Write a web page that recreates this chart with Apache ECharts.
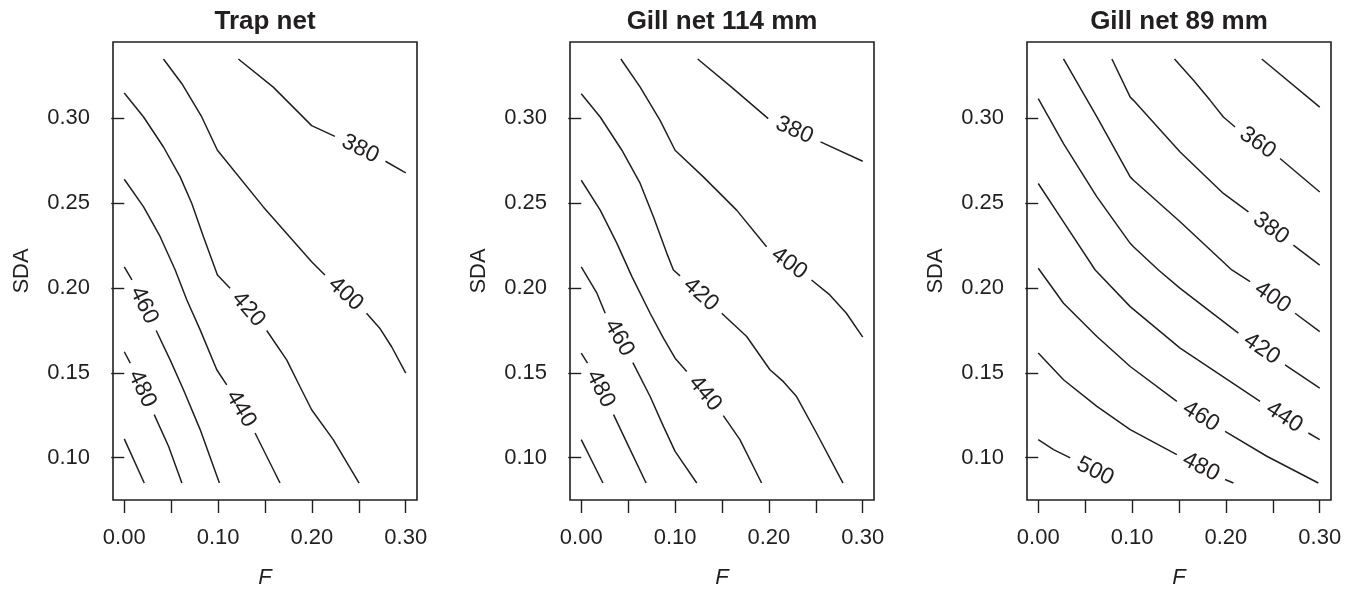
<!DOCTYPE html>
<html>
<head>
<meta charset="utf-8">
<script src="https://cdn.jsdelivr.net/npm/echarts@6/dist/echarts.min.js"></script>
<style>
  html, body { margin: 0; padding: 0; background: #fff; }
  #chart { width: 1354px; height: 589px; }
</style>
</head>
<body>
<div id="chart"></div>
<script>
// axis ticks and labels
const F_TICKS = [0, 0.05, 0.1, 0.15, 0.2, 0.25, 0.3];
const F_LABELS = [0, 0.1, 0.2, 0.3];
const SDA_TICKS = [0.1, 0.15, 0.2, 0.25, 0.3];
const panelTitles = ['Trap net', 'Gill net 114 mm', 'Gill net 89 mm'];

// contour lines, [F, SDA] points; each line is split where its label sits
const trapLines = [
  { level: 380, parts: [[[0.1216, 0.335], [0.1588, 0.3184], [0.1997, 0.2957], [0.2245, 0.2894]], [[0.2784, 0.2747], [0.3, 0.2678]]] },
  { level: 400, parts: [[[0.0418, 0.335], [0.0614, 0.3204], [0.0826, 0.3008], [0.0993, 0.2812], [0.1482, 0.2478], [0.1997, 0.2155], [0.2138, 0.2076]], [[0.2582, 0.1851], [0.2723, 0.1763], [0.2848, 0.1655], [0.3, 0.1498]]] },
  { level: 420, parts: [[[0, 0.3149], [0.0206, 0.3008], [0.0418, 0.2831], [0.0596, 0.2655], [0.072, 0.2498], [0.0844, 0.2302], [0.0993, 0.2076], [0.1128, 0.1998]], [[0.1518, 0.1749], [0.1731, 0.1576], [0.1872, 0.1419], [0.1997, 0.1282], [0.2227, 0.1106], [0.2503, 0.085]]] },
  { level: 440, parts: [[[0, 0.2641], [0.0206, 0.2478], [0.0383, 0.2302], [0.0543, 0.2106], [0.0667, 0.1929], [0.0809, 0.1753], [0.0986, 0.1518], [0.1092, 0.1429]], [[0.1394, 0.1145], [0.166, 0.085]]] },
  { level: 460, parts: [[[0, 0.2125], [0.0082, 0.2047]], [[0.034, 0.1749], [0.0489, 0.1576], [0.0631, 0.14], [0.0809, 0.1165], [0.1014, 0.085]]] },
  { level: 480, parts: [[[0, 0.1624], [0.0064, 0.1557]], [[0.0319, 0.1253], [0.0472, 0.1067], [0.0614, 0.085]]] },
  { level: 500, parts: [[[0, 0.111], [0.0213, 0.085]]] }
];
const trapLabels = [[0.2515, 0.282, 380], [0.236, 0.1964, 400], [0.1323, 0.1874, 420], [0.1243, 0.1287, 440], [0.0211, 0.1898, 460], [0.0191, 0.1405, 480]];

const gill114Lines = [
  { level: 380, parts: [[[0.1241, 0.335], [0.162, 0.3175], [0.1993, 0.2998]], [[0.255, 0.2861], [0.3, 0.2747]]] },
  { level: 400, parts: [[[0.0422, 0.335], [0.0628, 0.3184], [0.084, 0.2988], [0.1, 0.2812], [0.1301, 0.2655], [0.1656, 0.2459], [0.1975, 0.2243]], [[0.2454, 0.2047], [0.2649, 0.1959], [0.2826, 0.1851], [0.3, 0.171]]] },
  { level: 420, parts: [[[0, 0.3145], [0.0202, 0.3008], [0.0433, 0.2812], [0.0628, 0.2616], [0.0769, 0.242], [0.0912, 0.2204], [0.0982, 0.2106], [0.1053, 0.2071]], [[0.1497, 0.1851], [0.1763, 0.1714], [0.2011, 0.1518], [0.2152, 0.1449], [0.2295, 0.136], [0.2507, 0.1145], [0.279, 0.085]]] },
  { level: 440, parts: [[[0, 0.2635], [0.0202, 0.2459], [0.038, 0.2263], [0.054, 0.2067], [0.0734, 0.1851], [0.0876, 0.1704], [0.1, 0.1586], [0.1124, 0.1508]], [[0.1514, 0.1247], [0.1691, 0.1106], [0.1922, 0.085]]] },
  { level: 460, parts: [[[0, 0.2125], [0.0167, 0.1969], [0.0255, 0.1851]], [[0.055, 0.156], [0.0734, 0.136], [0.0876, 0.1184], [0.1, 0.1037], [0.1231, 0.085]]] },
  { level: 480, parts: [[[0, 0.1616], [0.0067, 0.1557]], [[0.0344, 0.1253], [0.0521, 0.1047], [0.0691, 0.085]]] },
  { level: 500, parts: [[[0, 0.1106], [0.0231, 0.085]]] }
];
const gill114Labels = [[0.2272, 0.293, 380], [0.2215, 0.2145, 400], [0.1275, 0.1961, 420], [0.1319, 0.1378, 440], [0.0403, 0.1706, 460], [0.0206, 0.1405, 480]];

const gill89Lines = [
  { level: 340, parts: [[[0.2382, 0.335], [0.3, 0.3066]]] },
  { level: 360, parts: [[[0.1452, 0.335], [0.1654, 0.3224], [0.1832, 0.3106], [0.1973, 0.3008], [0.2098, 0.2949]], [[0.2577, 0.2763], [0.3, 0.2566]]] },
  { level: 380, parts: [[[0.0785, 0.335], [0.098, 0.3125], [0.1015, 0.3106], [0.1512, 0.2802], [0.1973, 0.2557], [0.2045, 0.2528], [0.224, 0.2449]], [[0.2719, 0.2253], [0.3, 0.2135]]] },
  { level: 400, parts: [[[0.0269, 0.335], [0.0625, 0.3008], [0.098, 0.2655], [0.1015, 0.2635], [0.1512, 0.239], [0.2063, 0.2106], [0.2258, 0.2037]], [[0.2737, 0.1851], [0.3, 0.1743]]] },
  { level: 420, parts: [[[0, 0.3116], [0.0269, 0.2851], [0.0625, 0.2537], [0.098, 0.2263], [0.1015, 0.2243], [0.1281, 0.2106], [0.1512, 0.1998], [0.2133, 0.1734]], [[0.263, 0.1547], [0.3, 0.141]]] },
  { level: 440, parts: [[[0, 0.2616], [0.0269, 0.239], [0.0607, 0.2106], [0.098, 0.189], [0.1512, 0.1645], [0.2364, 0.1331]], [[0.2879, 0.1145], [0.3, 0.1106]]] },
  { level: 460, parts: [[[0, 0.2116], [0.0269, 0.191], [0.0625, 0.1714], [0.098, 0.1537], [0.1477, 0.1331]], [[0.1991, 0.1155], [0.2436, 0.1008], [0.2985, 0.085]]] },
  { level: 480, parts: [[[0, 0.1616], [0.0269, 0.1459], [0.0625, 0.1302], [0.098, 0.1165], [0.1477, 0.1018]], [[0.1991, 0.0871], [0.208, 0.085]]] },
  { level: 500, parts: [[[0, 0.1106], [0.0163, 0.1047], [0.0341, 0.0998]]] }
];
const gill89Labels = [[0.2338, 0.2856, 360], [0.248, 0.2351, 380], [0.2498, 0.1944, 400], [0.2382, 0.1641, 420], [0.2622, 0.1238, 440], [0.1734, 0.1243, 460], [0.1734, 0.0945, 480], [0.0607, 0.0919, 500]];

const INK = '#231f20';
const FONT = '"Liberation Sans", Arial, Helvetica, sans-serif';
const boxLeft = [113, 570, 1027];
const boxTop = 42, boxW = 304, boxH = 458;

const panels = [
  { lines: trapLines, labels: trapLabels },
  { lines: gill114Lines, labels: gill114Labels },
  { lines: gill89Lines, labels: gill89Labels }
];

const chart = echarts.init(document.getElementById('chart'), null, { renderer: 'canvas' });

const baseOption = {
  animation: false,
  backgroundColor: '#fff',
  title: panelTitles.map((t, i) => ({
    text: t,
    left: boxLeft[i] + boxW / 2,
    top: 9,
    textAlign: 'center',
    padding: 0,
    textStyle: { fontSize: 26, fontWeight: 'bold', color: INK, fontFamily: FONT }
  })),
  grid: panels.map((p, i) => ({
    left: boxLeft[i], top: boxTop, width: boxW, height: boxH,
    outerBoundsMode: 'none', containLabel: false,
    show: true, borderColor: INK, borderWidth: 1.6, backgroundColor: 'transparent'
  })),
  xAxis: panels.map((p, i) => ({
    type: 'value', gridIndex: i, min: -0.012, max: 0.312,
    name: 'F', nameLocation: 'middle', nameGap: 67,
    nameTextStyle: { fontStyle: 'italic', fontSize: 22, color: INK, fontFamily: FONT },
    axisLine: { show: false },
    splitLine: { show: false },
    axisTick: { show: true, length: 13, customValues: F_TICKS, lineStyle: { color: INK, width: 1.4 } },
    axisLabel: { customValues: F_LABELS, formatter: v => v.toFixed(2), margin: 27, fontSize: 22, color: INK, fontFamily: FONT }
  })),
  yAxis: panels.map((p, i) => ({
    type: 'value', gridIndex: i, min: 0.075, max: 0.345,
    name: 'SDA', nameLocation: 'middle', nameGap: 80,
    nameTextStyle: { fontSize: 22, color: INK, fontFamily: FONT },
    axisLine: { show: false },
    splitLine: { show: false },
    axisTick: { show: true, length: 13, customValues: SDA_TICKS, lineStyle: { color: INK, width: 1.4 } },
    axisLabel: { customValues: SDA_TICKS, formatter: v => v.toFixed(2), margin: 23, fontSize: 22, color: INK, fontFamily: FONT }
  })),
  series: []
};
chart.setOption(baseOption);

// angle of a contour label, taken from the line either side of its gap
function labelAngle(i, level) {
  const line = panels[i].lines.find(l => l.level === level);
  let a, b;
  if (line.parts.length > 1) {
    a = line.parts[0][line.parts[0].length - 1];
    b = line.parts[1][0];
  } else {
    const pts = line.parts[0];
    a = pts[pts.length - 2];
    b = pts[pts.length - 1];
  }
  const pa = chart.convertToPixel({ gridIndex: i }, a);
  const pb = chart.convertToPixel({ gridIndex: i }, b);
  let ang = -Math.atan2(pb[1] - pa[1], pb[0] - pa[0]) * 180 / Math.PI;
  if (ang > 90) ang -= 180;
  if (ang < -90) ang += 180;
  return ang;
}

const series = [];
panels.forEach((p, i) => {
  p.lines.forEach(line => {
    line.parts.forEach(part => {
      series.push({
        type: 'line', xAxisIndex: i, yAxisIndex: i,
        data: part, symbol: 'none', silent: true,
        lineStyle: { color: INK, width: 1.5 }
      });
    });
  });
  series.push({
    type: 'scatter', xAxisIndex: i, yAxisIndex: i,
    symbolSize: 1, silent: true,
    itemStyle: { color: '#fff', opacity: 0 },
    data: p.labels.map(d => ({
      value: d,
      label: { rotate: labelAngle(i, d[2]) }
    })),
    label: {
      show: true, position: 'inside',
      formatter: prm => String(prm.value[2]),
      fontSize: 23, color: INK, opacity: 1, fontFamily: FONT,
      textBorderWidth: 0
    }
  });
});
chart.setOption({ series: series });
</script>
</body>
</html>
